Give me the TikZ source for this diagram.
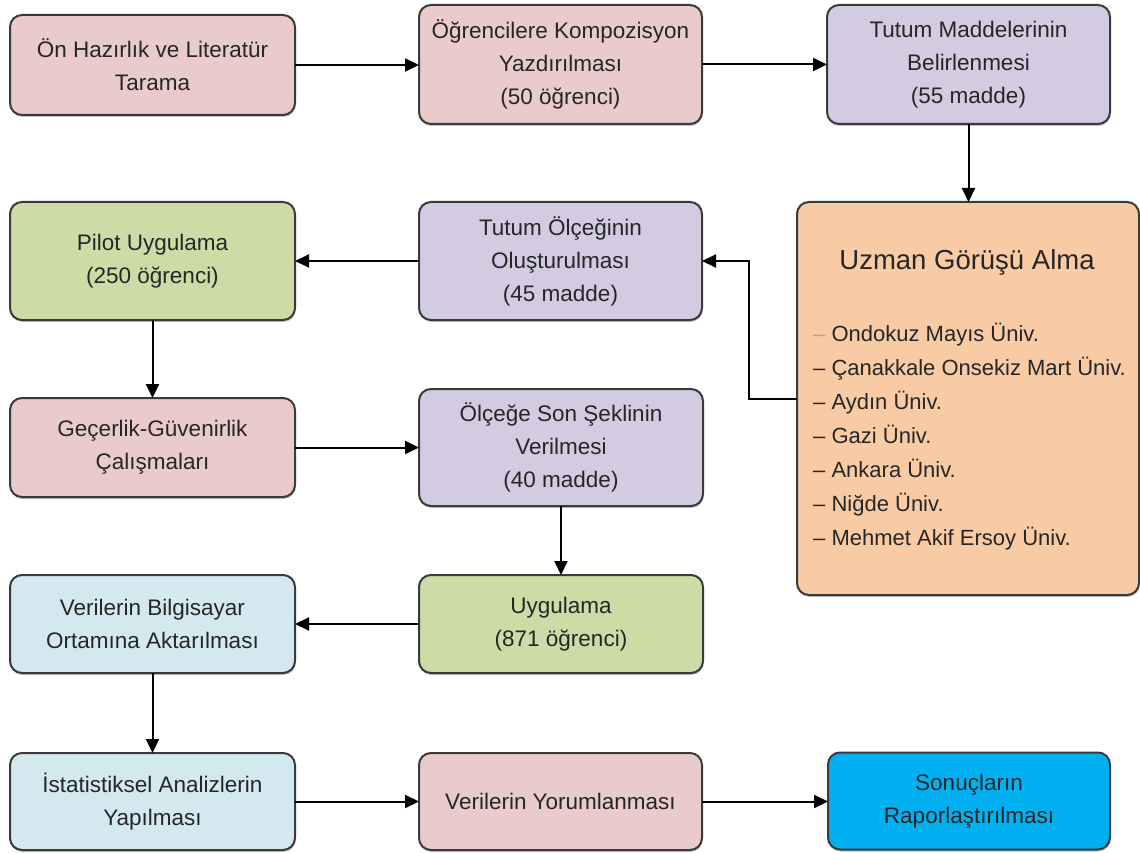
\documentclass[tikz,border=0pt]{standalone}
\usepackage{fontspec}
\setmainfont{Liberation Sans}
\usetikzlibrary{arrows.meta,shadows}
\definecolor{pinkbox}{HTML}{EACBCB}
\definecolor{lavbox}{HTML}{D3CBE1}
\definecolor{greenbox}{HTML}{CDDBA6}
\definecolor{orangebox}{HTML}{F9CBA5}
\definecolor{lbluebox}{HTML}{D3E9EF}
\definecolor{bbluebox}{HTML}{00B0F0}
\definecolor{edgegray}{HTML}{3A3A3A}
\definecolor{txt}{HTML}{262626}
\begin{document}
\begin{tikzpicture}[x=1pt,y=1pt,
  box/.style={draw=edgegray, line width=2pt, rounded corners=12pt, inner sep=4pt, outer sep=0pt,
    align=center, text=txt, font=\fontsize{22.5}{33}\selectfont,
    drop shadow={shadow xshift=0.5pt, shadow yshift=-2pt, fill=gray, opacity=0.45}},
  conn/.style={draw=black, line width=2pt, -{Triangle[length=14pt,width=13pt]}},
  item/.style={anchor=base west, inner sep=0pt, text=txt, font=\fontsize{22}{26}\selectfont}
]
\useasboundingbox (0,0) rectangle (1140,-853);
\fill[white] (0,0) rectangle (1140,-853);

% row 1
\node[box, fill=pinkbox, minimum width=285, minimum height=100] (b1) at (152.5,-65) {Ön Hazırlık ve Literatür\\Tarama};
\node[box, fill=pinkbox, minimum width=283, minimum height=119] (b2) at (560.5,-64.5) {Öğrencilere Kompozisyon\\Yazdırılması\\(50 öğrenci)};
\node[box, fill=lavbox, minimum width=283, minimum height=119] (b3) at (968.5,-64.5) {Tutum Maddelerinin\\Belirlenmesi\\(55 madde)};

% expert box
\node[box, fill=orangebox, minimum width=342, minimum height=393] (uz) at (968,-398.5) {};
\node[inner sep=0pt, text=txt, font=\fontsize{27.5}{30}\selectfont] (uzt) at (967,-262) {Uzman Görüşü Alma};
\node[item] (u1) at (813,-341) {{\color{gray!70}–} Ondokuz Mayıs Üniv.};
\node[item] (u2) at (813,-375) {– Çanakkale Onsekiz Mart Üniv.};
\node[item] (u3) at (813,-409) {– Aydın Üniv.};
\node[item] (u4) at (813,-443) {– Gazi Üniv.};
\node[item] (u5) at (813,-477) {– Ankara Üniv.};
\node[item] (u6) at (813,-511) {– Niğde Üniv.};
\node[item] (u7) at (813,-545) {– Mehmet Akif Ersoy Üniv.};

% row 2
\node[box, fill=lavbox, minimum width=283, minimum height=118] (b5) at (560.5,-261) {Tutum Ölçeğinin\\Oluşturulması\\(45 madde)};
\node[box, fill=greenbox, minimum width=285, minimum height=118] (b6) at (152.5,-261) {Pilot Uygulama\\(250 öğrenci)};

% row 3
\node[box, fill=pinkbox, minimum width=285, minimum height=99] (b7) at (152.5,-447.5) {Geçerlik-Güvenirlik\\Çalışmaları};
\node[box, fill=lavbox, minimum width=284, minimum height=117] (b8) at (561,-447.5) {Ölçeğe Son Şeklinin\\Verilmesi\\(40 madde)};

% row 4
\node[box, fill=greenbox, minimum width=284, minimum height=98] (b9) at (561,-624) {Uygulama\\(871 öğrenci)};
\node[box, fill=lbluebox, minimum width=285, minimum height=98] (b10) at (152.5,-624) {Verilerin Bilgisayar\\Ortamına Aktarılması};

% row 5
\node[box, fill=lbluebox, minimum width=285, minimum height=97] (b11) at (152.5,-801.5) {İstatistiksel Analizlerin\\Yapılması};
\node[box, fill=pinkbox, minimum width=283, minimum height=97] (b12) at (560.5,-801.5) {Verilerin Yorumlanması};
\node[box, fill=bbluebox, minimum width=282, minimum height=97] (b13) at (969,-801) {Sonuçların\\Raporlaştırılması};

% connectors
\draw[conn] (b1.east) -- (b1.east -| b2.west);
\draw[conn] (b2.east) -- (b2.east -| b3.west);
\draw[conn] (b3.south) -- (b3.south |- uz.north);
\draw[conn] (uz.west) -- ++(-48,0) |- (b5.east);
\draw[conn] (b5.west) -- (b5.west -| b6.east);
\draw[conn] (b6.south) -- (b6.south |- b7.north);
\draw[conn] (b7.east) -- (b7.east -| b8.west);
\draw[conn] (b8.south) -- (b8.south |- b9.north);
\draw[conn] (b9.west) -- (b9.west -| b10.east);
\draw[conn] (b10.south) -- (b10.south |- b11.north);
\draw[conn] (b11.east) -- (b11.east -| b12.west);
\draw[conn] (b12.east) -- (b12.east -| b13.west);
\end{tikzpicture}
\end{document}
